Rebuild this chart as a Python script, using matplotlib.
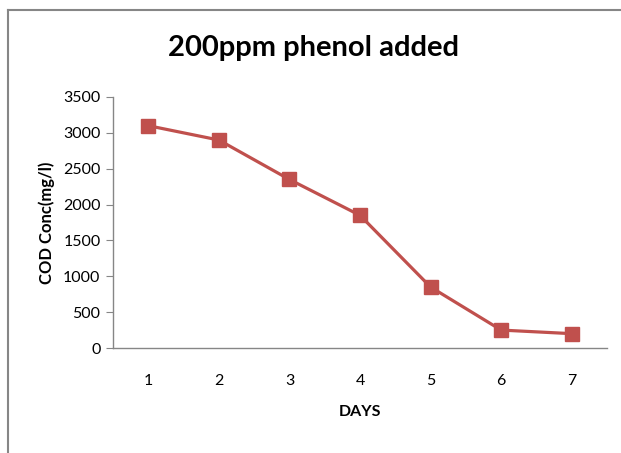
import matplotlib
matplotlib.use("Agg")
import matplotlib.pyplot as plt
from matplotlib.lines import Line2D

days = [1, 2, 3, 4, 5, 6, 7]
cod = [3100, 2900, 2350, 1850, 850, 250, 200]
y_ticks = [0, 500, 1000, 1500, 2000, 2500, 3000, 3500]

plt.rcParams["font.family"] = ["Lato", "DejaVu Sans"]

W, H = 621, 453
fig = plt.figure(figsize=(W / 100, H / 100), dpi=100)
ax = fig.add_axes([113 / W, 1 - 348 / H, (607 - 113) / W, (348 - 97) / H])

ax.plot(days, cod, color="#C0504D", lw=2.3, marker="s", ms=9.5,
        markerfacecolor="#C0504D", markeredgecolor="#C0504D")

ax.set_xlim(0.5, 7.5)
ax.set_ylim(0, 3500)
ax.set_xticks(days)
ax.set_yticks(y_ticks)
ax.tick_params(axis="x", length=0, pad=19, labelsize=11.5)
ax.tick_params(axis="y", length=5, color="#868686", labelsize=11.5, pad=4)
for s in ["top", "right"]:
    ax.spines[s].set_visible(False)
for s in ["left", "bottom"]:
    ax.spines[s].set_color("#868686")
    ax.spines[s].set_linewidth(1)

ax.set_xlabel("DAYS", fontsize=11.5, fontweight="bold", labelpad=12)
ax.set_ylabel("COD Conc(mg/l)", fontsize=12, fontweight="bold", labelpad=6)
fig.text(313 / W, 1 - 48 / H, "200ppm phenol added", ha="center", va="center",
         fontsize=21, fontweight="bold")

# cropped chart frame: top and left edges
fig.add_artist(Line2D([8 / W, 1], [1 - 10 / H, 1 - 10 / H], color="#868686", lw=1.5,
                      transform=fig.transFigure))
fig.add_artist(Line2D([8 / W, 8 / W], [0, 1 - 10 / H], color="#868686", lw=1.5,
                      transform=fig.transFigure))

fig.savefig("out.png", dpi=100)
